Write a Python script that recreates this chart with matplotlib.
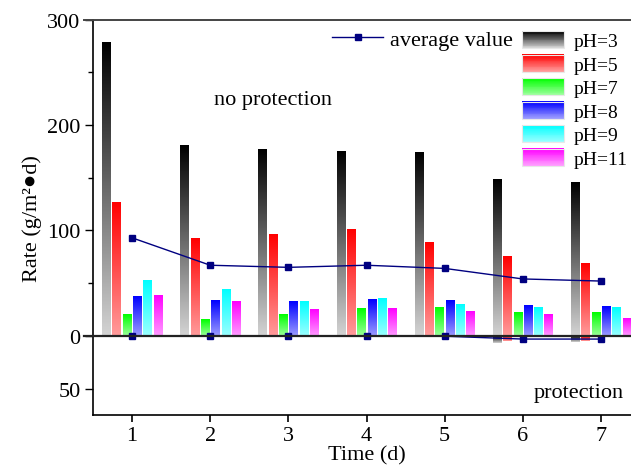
import numpy as np
import matplotlib
matplotlib.use('Agg')
import matplotlib.pyplot as plt
from matplotlib.colors import LinearSegmentedColormap
from matplotlib.legend_handler import HandlerBase
from matplotlib.patches import Rectangle
from matplotlib.lines import Line2D

plt.rcParams['font.family'] = ['Liberation Serif', 'DejaVu Sans']
plt.rcParams['font.size'] = 16

days = [1, 2, 3, 4, 5, 6, 7]
labels = ['pH=3', 'pH=5', 'pH=7', 'pH=8', 'pH=9', 'pH=11']

# no protection (drawn upward)
rate_ph3 = [278, 181, 177, 175, 174, 148, 146]
rate_ph5 = [127, 92, 96, 101, 89, 75, 69]
rate_ph7 = [20, 16, 20, 26, 27, 22, 22]
rate_ph8 = [37, 34, 33, 35, 34, 29, 28]
rate_ph9 = [53, 44, 33, 36, 30, 27, 27]
rate_ph11 = [38, 33, 25, 26, 23, 20, 17]
avg_noprot = [93, 67, 65, 67, 64, 54, 52]

# protection (drawn downward)
prot_ph3 = [0, 0, 0, 0, 0, 6.5, 5.5]
prot_ph5 = [0, 0, 0, 0, 0, 5, 4.5]
prot_ph7 = [0, 0, 0, 0, 0, 0.5, 0.5]
prot_ph8 = [0, 0, 0, 0, 0, 0.5, 0.5]
prot_ph9 = [0, 0, 0, 0, 0, 0.5, 0.5]
prot_ph11 = [0, 0, 0, 0, 0, 0.5, 0.5]
avg_prot = [0.3, 0.3, 0.3, 0.3, 0.3, 3, 3]

top_colors = ['#000000', '#ff0000', '#00ff00', '#0000ff', '#00ffff', '#ff00ff']
low_colors = ['#d4d4d4', '#ff9c9c', '#9cff9c', '#9c9cff', '#9cffff', '#ff9cff']
cmaps = [LinearSegmentedColormap.from_list('g%d' % i, [low_colors[i], top_colors[i]])
         for i in range(6)]

rates = [rate_ph3, rate_ph5, rate_ph7, rate_ph8, rate_ph9, rate_ph11]
prots = [prot_ph3, prot_ph5, prot_ph7, prot_ph8, prot_ph9, prot_ph11]

fig = plt.figure(figsize=(6.31, 4.77), dpi=100)
ax = fig.add_axes([93/631, 61/477, 547/631, 395.5/477])

grad = np.linspace(0, 1, 256).reshape(-1, 1)
step = 0.132
width = 0.105
for i in range(6):
    off = (i - 2.5) * step
    for j, d in enumerate(days):
        x0 = d + off - width/2
        h = rates[i][j]
        ax.imshow(grad, extent=[x0, x0 + width, 0, h], origin='lower',
                  aspect='auto', cmap=cmaps[i], zorder=2, interpolation='bilinear')
        p = prots[i][j]
        if p > 0:
            ax.imshow(grad, extent=[x0, x0 + width, -p, 0], origin='lower',
                      aspect='auto', cmap=cmaps[i], zorder=2, interpolation='bilinear')

ax.plot(days, avg_noprot, color='#000080', lw=1, marker='s', ms=4.5, zorder=4)
ax.plot(days, [-v for v in avg_prot], color='#000080', lw=1, marker='s', ms=4.5, zorder=4)

ax.set_xlim(0.5, 7.5)
ax.set_ylim(-75, 300)

ax.spines['top'].set_visible(False)
ax.spines['right'].set_visible(False)
for s in ['left', 'bottom']:
    ax.spines[s].set_linewidth(1.2)

# zero line and top line
fig.add_artist(Line2D([84/631, 1], [1 - 337/477, 1 - 337/477], color='#222222', lw=1.6,
                      transform=fig.transFigure, zorder=5))
fig.add_artist(Line2D([84/631, 1], [1 - 20.5/477, 1 - 20.5/477], color='#444444', lw=1.4,
                      transform=fig.transFigure))

ax.set_yticks([-50, 0, 100, 200, 300])
ax.set_yticklabels(['50', '0', '100', '200', '300'])
ax.set_yticks([50, 150, 250], minor=True)
ax.set_xticks(days)
ax.tick_params(axis='y', which='major', direction='out', length=6, width=1, pad=3)
ax.tick_params(axis='y', which='minor', direction='out', length=3.5, width=1)
ax.tick_params(axis='x', direction='out', length=5, width=1.2, pad=3)

ax.set_xlabel('Time (d)', labelpad=0)
ax.set_ylabel('Rate (g/m²●d)', labelpad=4)

ax.text(2.8, 224, 'no protection', ha='center', va='center')
ax.text(6.71, -54, 'protection', ha='center', va='center')


class GradHandler(HandlerBase):
    def __init__(self, idx):
        super().__init__()
        self.idx = idx

    def create_artists(self, legend, orig_handle, xdescent, ydescent, width, height, fontsize, trans):
        arts = []
        n = 20
        for k in range(n):
            c = cmaps[self.idx](k / (n - 1))
            arts.append(Rectangle((-xdescent, -ydescent + height * k / n), width, height / n + 0.3,
                                  facecolor=c, edgecolor='none', transform=trans))
        arts.append(Rectangle((-xdescent, -ydescent), width, height, facecolor='none',
                              edgecolor='#e8e8e8', lw=0.8, transform=trans))
        return arts


proxies = [Rectangle((0, 0), 1, 1) for _ in range(6)]
leg1 = ax.legend(proxies, labels, handler_map={proxies[i]: GradHandler(i) for i in range(6)},
                 loc='upper left', bbox_to_anchor=(522/631, 1 - 32/477), bbox_transform=fig.transFigure,
                 frameon=False, fontsize=14, handlelength=2.16, handleheight=0.98, labelspacing=0.22,
                 handletextpad=0.5, borderaxespad=0, borderpad=0)
ax.add_artist(leg1)

avg_handle = Line2D([], [], color='#000080', lw=1, marker='s', ms=4.5)
ax.legend([avg_handle], ['average value'], loc='upper left',
          bbox_to_anchor=(332/631, 1 - 30/477), bbox_transform=fig.transFigure,
          frameon=False, handlelength=2.3, handletextpad=0.3, borderaxespad=0, borderpad=0)

fig.savefig('out.png', dpi=100)
